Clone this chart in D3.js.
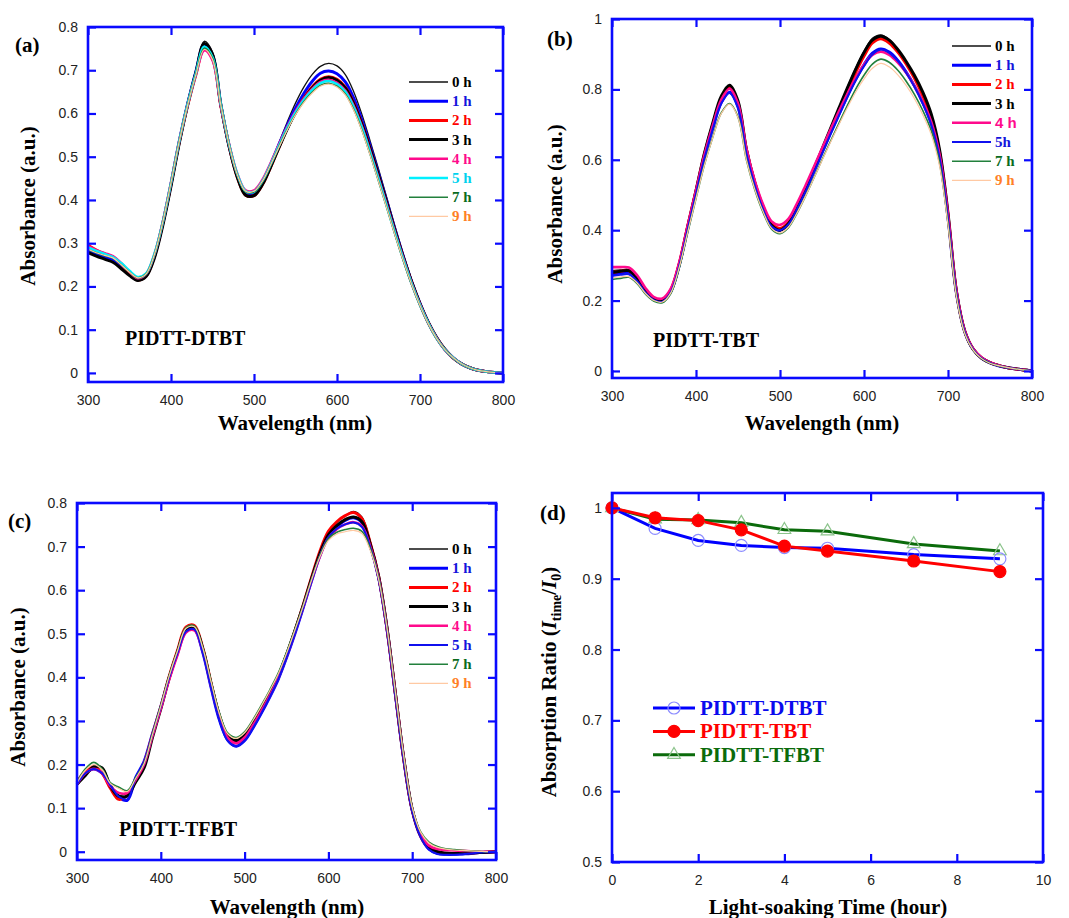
<!DOCTYPE html>
<html lang="en">
<head>
<meta charset="UTF-8">
<title>Absorption spectra under light soaking</title>
<script src="https://d3js.org/d3.v7.min.js"></script>
<style>
  body { margin: 0; background: #fff; }
  .tick-label { font-family: "Liberation Sans", Arial, sans-serif; font-size: 14px; fill: #222; }
  .serif-bold { font-family: "Liberation Serif", "Times New Roman", serif; font-weight: bold; }
</style>
</head>
<body>
<div id="chart"></div>
<script>
// ---- data ----
const wavelengths = [300, 310, 320, 330, 340, 350, 360, 370, 380, 390, 400, 410, 420, 430, 440, 450, 460, 470, 480, 490,
  500, 510, 520, 530, 540, 550, 560, 570, 580, 590, 600, 610, 620, 630, 640, 650, 660, 670, 680, 690,
  700, 710, 720, 730, 740, 750, 760, 770, 780, 790, 800];

const wavelengthTicks = [300, 400, 500, 600, 700, 800];
const absTicksA = [0, 0.1, 0.2, 0.3, 0.4, 0.5, 0.6, 0.7, 0.8];
const absTicksB = [0, 0.2, 0.4, 0.6, 0.8, 1];
const absTicksC = [0, 0.1, 0.2, 0.3, 0.4, 0.5, 0.6, 0.7, 0.8];
const hourTicks = [0, 2, 4, 6, 8, 10];
const ratioTicks = [0.5, 0.6, 0.7, 0.8, 0.9, 1];

const timeLabels = ["0 h", "1 h", "2 h", "3 h", "4 h", "5 h", "7 h", "9 h"];
const timeLabelsB = ["0 h", "1 h", "2 h", "3 h", "4 h", "5h", "7 h", "9 h"];

// (a) PIDTT-DTBT
const dtbt0 = [.285,.276,.268,.260,.245,.228,.215,.224,.268,.342,.435,.535,.623,.700,.767,.742,.625,.527,.455,.415,.414,.440,.484,.532,.580,.624,.661,.690,.709,.716,.710,.690,.651,.598,.536,.472,.405,.338,.274,.215,.163,.119,.083,.055,.035,.021,.012,.006,.003,.001,.000];
const dtbt1 = [.283,.275,.268,.262,.247,.229,.217,.226,.270,.345,.437,.536,.622,.697,.760,.735,.621,.525,.455,.416,.416,.441,.482,.528,.572,.612,.646,.674,.693,.698,.692,.673,.636,.585,.525,.462,.397,.331,.269,.211,.161,.117,.082,.054,.035,.021,.012,.006,.003,.001,.000];
const dtbt2 = [.295,.284,.275,.268,.252,.231,.215,.224,.270,.345,.436,.534,.618,.690,.750,.727,.618,.525,.452,.411,.410,.435,.476,.521,.565,.603,.635,.661,.679,.685,.679,.661,.625,.576,.518,.456,.392,.327,.266,.209,.159,.116,.081,.054,.034,.021,.012,.006,.003,.001,.000];
const dtbt3 = [.278,.270,.263,.256,.241,.225,.214,.223,.266,.340,.432,.532,.620,.695,.762,.737,.620,.524,.452,.411,.410,.435,.476,.521,.564,.602,.633,.659,.677,.683,.677,.659,.623,.575,.518,.457,.393,.328,.267,.210,.160,.117,.082,.055,.035,.021,.012,.006,.003,.001,.000];
const dtbt4 = [.293,.284,.277,.270,.254,.234,.219,.229,.274,.348,.440,.537,.620,.690,.746,.723,.618,.529,.460,.422,.422,.446,.485,.528,.569,.605,.634,.657,.673,.678,.671,.653,.618,.570,.512,.451,.388,.324,.264,.207,.158,.115,.081,.054,.035,.021,.012,.006,.003,.001,.000];
const dtbt5 = [.290,.282,.275,.268,.254,.236,.222,.230,.275,.348,.440,.537,.621,.693,.754,.730,.622,.528,.459,.420,.419,.443,.482,.525,.566,.602,.631,.654,.670,.675,.668,.650,.615,.567,.509,.448,.385,.322,.262,.206,.157,.115,.080,.054,.035,.021,.012,.006,.003,.001,.000];
const dtbt7 = [.285,.278,.271,.265,.250,.233,.220,.229,.274,.348,.440,.537,.620,.691,.751,.728,.621,.528,.458,.419,.419,.442,.481,.523,.563,.598,.627,.649,.665,.670,.663,.645,.610,.562,.505,.444,.382,.319,.259,.204,.156,.114,.080,.054,.035,.021,.012,.006,.003,.001,.000];
const dtbt9 = [.286,.278,.272,.266,.250,.233,.220,.229,.274,.348,.440,.536,.619,.690,.748,.725,.620,.528,.458,.420,.420,.443,.481,.522,.562,.597,.625,.647,.663,.668,.661,.643,.608,.560,.503,.443,.381,.318,.259,.204,.156,.114,.080,.054,.035,.021,.012,.006,.003,.001,.000];

// (b) PIDTT-TBT
const tbt0 = [.285,.287,.288,.265,.230,.205,.201,.228,.302,.408,.512,.618,.705,.778,.810,.765,.630,.535,.463,.413,.400,.418,.462,.515,.572,.630,.688,.746,.805,.860,.908,.945,.955,.942,.915,.880,.840,.790,.728,.625,.445,.225,.112,.062,.037,.024,.016,.010,.006,.003,.000];
const tbt1 = [.275,.278,.280,.258,.225,.203,.199,.226,.300,.403,.505,.606,.690,.762,.792,.750,.620,.528,.460,.412,.400,.418,.460,.510,.565,.620,.675,.728,.780,.828,.870,.903,.915,.906,.883,.850,.810,.762,.703,.608,.435,.222,.111,.061,.036,.023,.015,.010,.006,.003,.000];
const tbt2 = [.280,.283,.285,.262,.228,.206,.202,.230,.305,.410,.512,.615,.700,.772,.805,.760,.628,.535,.466,.418,.405,.422,.465,.516,.571,.627,.684,.740,.795,.848,.895,.932,.944,.932,.907,.873,.832,.782,.720,.620,.442,.225,.112,.062,.037,.024,.016,.010,.006,.003,.000];
const tbt3 = [.280,.283,.285,.263,.228,.205,.200,.228,.302,.408,.512,.618,.705,.780,.812,.767,.630,.535,.464,.414,.400,.418,.462,.515,.572,.630,.688,.746,.803,.857,.905,.940,.951,.940,.914,.880,.840,.792,.730,.628,.448,.227,.113,.062,.037,.024,.016,.010,.006,.003,.000];
const tbt4 = [.295,.295,.294,.272,.235,.210,.206,.234,.308,.412,.513,.614,.698,.770,.802,.760,.632,.540,.472,.425,.415,.432,.475,.525,.578,.632,.685,.737,.786,.832,.870,.898,.907,.898,.877,.848,.810,.764,.708,.615,.445,.228,.114,.063,.038,.024,.016,.010,.006,.003,.000];
const tbt5 = [.270,.273,.275,.255,.222,.201,.197,.224,.298,.401,.503,.604,.688,.760,.790,.748,.618,.527,.458,.411,.400,.417,.459,.508,.562,.617,.672,.725,.777,.825,.866,.899,.913,.904,.881,.848,.808,.760,.700,.605,.432,.220,.110,.061,.036,.023,.015,.010,.006,.003,.000];
const tbt7 = [.260,.263,.266,.248,.218,.198,.194,.220,.292,.392,.490,.586,.665,.733,.760,.722,.600,.515,.450,.403,.390,.407,.447,.495,.547,.600,.652,.703,.753,.800,.840,.872,.886,.877,.855,.824,.786,.740,.683,.590,.420,.214,.107,.059,.035,.022,.015,.010,.006,.003,.000];
const tbt9 = [.265,.267,.268,.250,.220,.200,.196,.222,.294,.393,.490,.585,.663,.731,.758,.720,.600,.516,.452,.405,.392,.409,.448,.495,.546,.598,.649,.699,.747,.792,.830,.860,.874,.864,.842,.812,.774,.728,.672,.582,.415,.212,.106,.059,.035,.022,.015,.010,.006,.003,.000];

// (c) PIDTT-TFBT
const tfbt0 = [.160,.180,.195,.193,.155,.130,.135,.158,.195,.265,.330,.400,.460,.512,.517,.467,.387,.313,.268,.256,.268,.297,.330,.365,.404,.454,.509,.567,.630,.688,.733,.755,.770,.781,.768,.712,.635,.515,.365,.215,.098,.040,.012,.002,-.002,-.003,-.003,-.002,-.001,.000,.000];
const tfbt1 = [.155,.180,.190,.180,.150,.125,.118,.170,.207,.270,.333,.400,.456,.505,.510,.458,.377,.302,.256,.242,.255,.284,.318,.355,.395,.445,.500,.560,.622,.680,.723,.745,.760,.766,.755,.702,.628,.510,.360,.211,.095,.035,.006,-.004,-.006,-.006,-.005,-.004,-.002,-.001,.000];
const tfbt2 = [.160,.185,.195,.180,.145,.120,.130,.165,.202,.268,.332,.402,.462,.515,.519,.468,.387,.310,.263,.250,.262,.290,.324,.360,.400,.450,.506,.566,.630,.690,.735,.757,.771,.778,.764,.708,.631,.511,.362,.212,.096,.036,.008,-.002,-.004,-.004,-.004,-.003,-.002,-.001,.000];
const tfbt3 = [.155,.175,.195,.192,.150,.127,.128,.160,.192,.262,.328,.398,.458,.510,.515,.466,.385,.312,.265,.255,.267,.295,.329,.363,.402,.452,.507,.565,.627,.684,.727,.748,.762,.768,.757,.705,.631,.512,.362,.213,.097,.038,.010,.000,-.003,-.004,-.004,-.003,-.002,-.001,.000];
const tfbt4 = [.155,.180,.190,.180,.150,.135,.135,.165,.200,.265,.328,.395,.452,.503,.508,.460,.380,.308,.261,.249,.262,.290,.323,.358,.398,.448,.503,.561,.622,.678,.720,.740,.751,.756,.747,.700,.628,.510,.361,.213,.097,.040,.014,.006,.004,.003,.002,.001,.000,.000,.000];
const tfbt5 = [.155,.180,.190,.180,.152,.126,.120,.170,.205,.270,.333,.400,.456,.505,.510,.457,.376,.302,.254,.242,.255,.284,.318,.355,.395,.445,.500,.560,.621,.679,.721,.741,.751,.755,.745,.698,.625,.508,.358,.210,.094,.034,.005,-.005,-.007,-.007,-.006,-.004,-.002,-.001,.000];
const tfbt7 = [.160,.190,.205,.190,.158,.148,.140,.170,.203,.270,.336,.405,.463,.514,.518,.470,.392,.318,.272,.262,.275,.303,.336,.371,.409,.457,.510,.566,.626,.680,.718,.733,.739,.742,.735,.695,.628,.514,.366,.219,.103,.046,.022,.012,.007,.005,.003,.002,.001,.000,.000];
const tfbt9 = [.158,.187,.200,.188,.156,.145,.138,.168,.202,.268,.334,.403,.461,.512,.516,.468,.390,.316,.270,.260,.273,.301,.334,.369,.407,.455,.508,.564,.624,.677,.714,.729,.734,.737,.730,.691,.625,.512,.365,.218,.102,.045,.020,.010,.006,.004,.003,.002,.001,.000,.000];

// (d) absorption ratio vs light-soaking time
const hours = [0, 1, 2, 3, 4, 5, 7, 9];
const ratioDTBT = [1.000, 0.971, 0.954, 0.947, 0.944, 0.943, 0.934, 0.928];
const ratioTBT  = [1.000, 0.986, 0.982, 0.969, 0.946, 0.939, 0.925, 0.910];
const ratioTFBT = [1.000, 0.984, 0.983, 0.979, 0.969, 0.967, 0.949, 0.939];

// ---- drawing ----
const W = 1069, H = 918;
const frameBlue = "#0a0aff";
const svg = d3.select("#chart").append("svg").attr("width", W).attr("height", H)
  .style("background", "#fff");

// line styles for the 8 time steps (a, c: 5 h cyan/blue)
function timeStyles(fiveColor, fiveText, fiveWidth) {
  return [
    { color: "#111", text: "#000", width: 1.3 },
    { color: "#0000ff", text: "#1414dc", width: 3 },
    { color: "#ff0000", text: "#ff0000", width: 3 },
    { color: "#000", text: "#000", width: 3 },
    { color: "#ff0a8c", text: "#ff0a8c", width: 2.6 },
    { color: fiveColor, text: fiveText, width: fiveWidth },
    { color: "#22803c", text: "#0a6b1e", width: 1.6 },
    { color: "#ffc9a3", text: "#ff7f27", width: 1.2 }
  ];
}

function drawFrame(g, x, y, xTicks, yTicks, fmtX, fmtY) {
  const [x0, x1] = x.range();
  const [yb, yt] = y.range();
  const tickStyle = a => {
    a.select(".domain").remove();
    a.selectAll("line").attr("stroke", frameBlue).attr("stroke-width", 2.2);
  };
  g.append("g").attr("transform", `translate(0,${yb})`)
    .call(d3.axisBottom(x).tickValues(xTicks).tickSize(-8).tickFormat("")).call(tickStyle);
  g.append("g").attr("transform", `translate(0,${yt})`)
    .call(d3.axisTop(x).tickValues(xTicks).tickSize(-8).tickFormat("")).call(tickStyle);
  g.append("g").attr("transform", `translate(${x0},0)`)
    .call(d3.axisLeft(y).tickValues(yTicks).tickSize(-8).tickFormat("")).call(tickStyle);
  g.append("g").attr("transform", `translate(${x1},0)`)
    .call(d3.axisRight(y).tickValues(yTicks).tickSize(-8).tickFormat("")).call(tickStyle);

  // tick labels
  const lab = a => {
    a.select(".domain").remove();
    a.selectAll("line").remove();
    a.selectAll("text").attr("class", "tick-label").attr("font-size", null).attr("font-family", null);
    a.attr("font-size", null).attr("font-family", null);
  };
  g.append("g").attr("transform", `translate(0,${yb})`)
    .call(d3.axisBottom(x).tickValues(xTicks).tickSize(0).tickPadding(13).tickFormat(fmtX)).call(lab);
  g.append("g").attr("transform", `translate(${x0},0)`)
    .call(d3.axisLeft(y).tickValues(yTicks).tickSize(0).tickPadding(10).tickFormat(fmtY)).call(lab);

  g.append("rect").attr("x", x0).attr("y", yt).attr("width", x1 - x0).attr("height", yb - yt)
    .attr("fill", "none").attr("stroke", frameBlue).attr("stroke-width", 2.6);
}

function axisTitles(g, p) {
  g.append("text").attr("class", "serif-bold").attr("font-size", 21)
    .attr("text-anchor", "middle").attr("x", p.xTitleX).attr("y", p.xTitleY).text(p.xTitle);
  if (p.yTitle) {
    g.append("text").attr("class", "serif-bold").attr("font-size", 21)
      .attr("text-anchor", "middle")
      .attr("transform", `translate(${p.yTitleX},${p.yTitleY}) rotate(-90)`).text(p.yTitle);
  }
  g.append("text").attr("class", "serif-bold").attr("font-size", 21)
    .attr("x", p.tagX).attr("y", p.tagY).text(p.tag);
}

function spectrumPanel(p) {
  const g = svg.append("g");
  const x = d3.scaleLinear().domain([300, 800]).range([p.left, p.right]);
  const y = d3.scaleLinear().domain(p.yDomain).range([p.bottom, p.top]);
  const line = d3.line()
    .x((d, i) => x(wavelengths[i]))
    .y(d => y(d))
    .curve(d3.curveCatmullRom.alpha(0.5));

  p.series.forEach((vals, i) => {
    g.append("path").attr("d", line(vals)).attr("fill", "none")
      .attr("stroke", p.styles[i].color).attr("stroke-width", p.styles[i].width)
      .attr("stroke-linejoin", "round");
  });

  drawFrame(g, x, y, wavelengthTicks, p.yTicks, d3.format("d"), d3.format("~g"));
  axisTitles(g, p);

  // legend
  p.labels.forEach((lbl, i) => {
    const ly = p.legY + i * 19.2;
    g.append("line").attr("x1", p.legX).attr("x2", p.legX + 39).attr("y1", ly).attr("y2", ly)
      .attr("stroke", p.styles[i].color).attr("stroke-width", p.styles[i].width);
    g.append("text").attr("class", "serif-bold").attr("font-size", 15)
      .attr("x", p.legX + 43).attr("y", ly + 5).attr("fill", p.styles[i].text)
      .attr("font-weight", p.legNormal && p.legNormal.includes(i) ? "normal" : "bold")
      .style("font-family", p.legNormal && p.legNormal.includes(i) ? "'Liberation Sans', Arial, sans-serif" : null)
      .text(lbl);
  });

  g.append("text").attr("class", "serif-bold").attr("font-size", 20)
    .attr("x", p.nameX).attr("y", p.nameY).text(p.name);
}

spectrumPanel({
  left: 88, right: 503, top: 27, bottom: 382, yDomain: [-0.021, 0.8], yTicks: absTicksA,
  series: [dtbt0, dtbt1, dtbt2, dtbt3, dtbt4, dtbt5, dtbt7, dtbt9],
  styles: timeStyles("#00f0ff", "#00d2ee", 2.6), labels: timeLabels,
  legX: 409, legY: 82,
  xTitle: "Wavelength (nm)", xTitleX: 295, xTitleY: 430,
  yTitle: "Absorbance (a.u.)", yTitleX: 35, yTitleY: 206,
  tag: "(a)", tagX: 15, tagY: 52,
  name: "PIDTT-DTBT", nameX: 125, nameY: 345
});

spectrumPanel({
  left: 612, right: 1032, top: 19, bottom: 378, yDomain: [-0.02, 1], yTicks: absTicksB,
  series: [tbt0, tbt1, tbt2, tbt3, tbt4, tbt5, tbt7, tbt9],
  styles: timeStyles("#1010ee", "#1414dc", 2), labels: timeLabelsB,
  legX: 952, legY: 46, legNormal: [4],
  xTitle: "Wavelength (nm)", xTitleX: 822, xTitleY: 430,
  yTitle: "Absorbance (a.u.)", yTitleX: 562, yTitleY: 204,
  tag: "(b)", tagX: 547, tagY: 46,
  name: "PIDTT-TBT", nameX: 653, nameY: 347
});

spectrumPanel({
  left: 77, right: 496, top: 503, bottom: 860, yDomain: [-0.019, 0.8], yTicks: absTicksC,
  series: [tfbt0, tfbt1, tfbt2, tfbt3, tfbt4, tfbt5, tfbt7, tfbt9],
  styles: timeStyles("#1010ee", "#1414dc", 2), labels: timeLabels,
  legX: 409, legY: 549,
  xTitle: "Wavelength (nm)", xTitleX: 287, xTitleY: 914,
  yTitle: "Absorbance (a.u.)", yTitleX: 25, yTitleY: 687,
  tag: "(c)", tagX: 8, tagY: 528,
  name: "PIDTT-TFBT", nameX: 119, nameY: 836
});

// ---- panel (d) ----
(function ratioPanel() {
  const p = { left: 612, right: 1043, top: 493, bottom: 862 };
  const g = svg.append("g");
  const x = d3.scaleLinear().domain([0, 10]).range([p.left, p.right]);
  const y = d3.scaleLinear().domain([0.5, 1.021]).range([p.bottom, p.top]);

  const sets = [
    { name: "PIDTT-DTBT", vals: ratioDTBT, line: "#0000ff", text: "#0a0aee", marker: "circle-open", mk: "#8c8cff" },
    { name: "PIDTT-TBT", vals: ratioTBT, line: "#ff0000", text: "#ff0000", marker: "circle-fill", mk: "#ff0000" },
    { name: "PIDTT-TFBT", vals: ratioTFBT, line: "#0b6b0b", text: "#0b6b0b", marker: "triangle", mk: "#8cc48c" }
  ];
  const line = d3.line().x((d, i) => x(hours[i])).y(d => y(d));
  const tri = d3.symbol().type(d3.symbolTriangle).size(70);

  function marker(sel, s, cx, cy) {
    if (s.marker === "triangle") {
      sel.append("path").attr("d", tri()).attr("transform", `translate(${cx},${cy})`)
        .attr("fill", "none").attr("stroke", s.mk).attr("stroke-width", 1.2);
    } else {
      sel.append("circle").attr("cx", cx).attr("cy", cy).attr("r", 6)
        .attr("fill", s.marker === "circle-fill" ? s.mk : "none")
        .attr("stroke", s.mk).attr("stroke-width", 1.2);
    }
  }

  // lines under markers; order so red markers sit on top
  [2, 0, 1].forEach(k => {
    const s = sets[k];
    g.append("path").attr("d", line(s.vals)).attr("fill", "none")
      .attr("stroke", s.line).attr("stroke-width", 3);
  });
  [2, 0, 1].forEach(k => {
    const s = sets[k];
    s.vals.forEach((v, i) => marker(g, s, x(hours[i]), y(v)));
  });

  drawFrame(g, x, y, hourTicks, ratioTicks, d3.format("d"), d3.format("~g"));

  g.append("text").attr("class", "serif-bold").attr("font-size", 21)
    .attr("text-anchor", "middle").attr("x", 828).attr("y", 914).text("Light-soaking Time (hour)");

  const yt = g.append("text").attr("class", "serif-bold").attr("font-size", 21)
    .attr("text-anchor", "middle").attr("transform", "translate(556,682) rotate(-90)");
  yt.append("tspan").text("Absorption Ratio (");
  yt.append("tspan").attr("font-style", "italic").text("I");
  yt.append("tspan").attr("font-size", 14).attr("dy", 5).text("time");
  yt.append("tspan").attr("dy", -5).text("/");
  yt.append("tspan").attr("font-style", "italic").text("I");
  yt.append("tspan").attr("font-size", 14).attr("dy", 5).text("0");
  yt.append("tspan").attr("dy", -5).text(")");

  g.append("text").attr("class", "serif-bold").attr("font-size", 21)
    .attr("x", 540).attr("y", 520).text("(d)");

  // legend
  sets.forEach((s, i) => {
    const ly = 708 + i * 23.4;
    g.append("line").attr("x1", 653).attr("x2", 695).attr("y1", ly).attr("y2", ly)
      .attr("stroke", s.line).attr("stroke-width", 3);
    marker(g, s, 674, ly);
    g.append("text").attr("class", "serif-bold").attr("font-size", 21)
      .attr("x", 700).attr("y", ly + 7).attr("fill", s.text).text(s.name);
  });
})();
</script>
</body>
</html>
